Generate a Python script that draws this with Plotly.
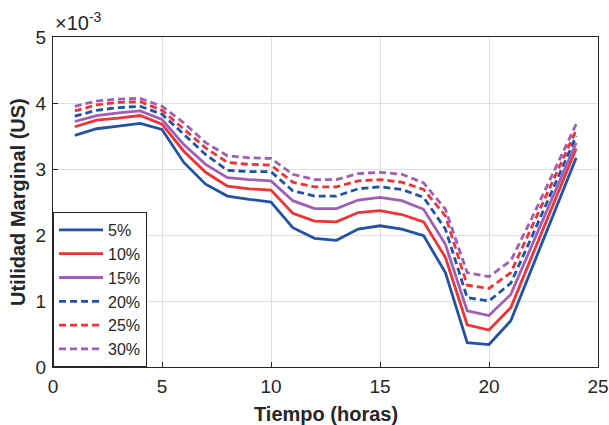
import plotly.graph_objects as go

hours = list(range(1, 25))
labels = ["5%", "10%", "15%", "20%", "25%", "30%"]

# values in units of 1e-3
u5 = [3.51, 3.61, 3.65, 3.69, 3.60, 3.10, 2.77, 2.59, 2.54, 2.50, 2.11, 1.95, 1.92, 2.09, 2.14, 2.09, 1.99, 1.43, 0.37, 0.34, 0.70, 1.53, 2.34, 3.17]
u10 = [3.64, 3.74, 3.77, 3.81, 3.68, 3.27, 2.95, 2.74, 2.70, 2.68, 2.33, 2.21, 2.20, 2.34, 2.37, 2.31, 2.20, 1.66, 0.64, 0.56, 0.90, 1.70, 2.50, 3.31]
u15 = [3.72, 3.81, 3.85, 3.88, 3.75, 3.37, 3.07, 2.87, 2.84, 2.82, 2.52, 2.40, 2.40, 2.53, 2.57, 2.52, 2.39, 1.86, 0.85, 0.78, 1.10, 1.87, 2.63, 3.40]
u20 = [3.80, 3.89, 3.93, 3.95, 3.83, 3.53, 3.22, 2.98, 2.96, 2.96, 2.67, 2.59, 2.59, 2.70, 2.73, 2.69, 2.57, 2.09, 1.05, 1.00, 1.27, 2.00, 2.75, 3.50]
u25 = [3.88, 3.97, 4.01, 4.02, 3.89, 3.61, 3.32, 3.10, 3.07, 3.06, 2.80, 2.73, 2.73, 2.82, 2.84, 2.80, 2.69, 2.29, 1.24, 1.19, 1.43, 2.15, 2.87, 3.59]
u30 = [3.95, 4.03, 4.06, 4.07, 3.95, 3.70, 3.40, 3.20, 3.17, 3.16, 2.92, 2.84, 2.84, 2.93, 2.95, 2.92, 2.79, 2.39, 1.43, 1.37, 1.61, 2.28, 2.98, 3.68]

series = [u5, u10, u15, u20, u25, u30]
colors = ["#2252A8", "#F03236", "#A25DB5", "#2252A8", "#F03236", "#A25DB5"]
dashes = ["solid", "solid", "solid", "7px,4px", "7px,4px", "7px,4px"]

xticks = [0, 5, 10, 15, 20, 25]
yticks = [0, 1, 2, 3, 4, 5]
ytick_text = ["0", "1", "2", "3", "4", "5"]

FONT = "Liberation Sans, Arial"
TXT = "#262626"

fig = go.Figure()
for name, vals, c, d in zip(labels, series, colors, dashes):
    fig.add_trace(go.Scatter(
        x=hours, y=[v * 1e-3 for v in vals], mode="lines", name=name,
        line=dict(color=c, width=2.8, dash=d),
    ))

axis_common = dict(
    showgrid=True, gridcolor="#DFDFDF", gridwidth=1,
    showline=True, linecolor="#262626", linewidth=1, mirror=True,
    ticks="inside", ticklen=5, tickcolor="#262626",
    zeroline=False, automargin=False, ticklabeloverflow="allow",
    tickfont=dict(family=FONT, size=19, color=TXT),
)

fig.update_layout(
    width=609, height=425,
    margin=dict(l=53, r=11, t=37, b=58),
    paper_bgcolor="white", plot_bgcolor="white",
    xaxis=dict(range=[0, 25], tickvals=xticks, ticklabelstandoff=2, **axis_common),
    yaxis=dict(range=[0, 0.005], tickvals=[t * 1e-3 for t in yticks], ticktext=ytick_text,
               ticklabelstandoff=2, **axis_common),
    legend=dict(x=0, y=0, xanchor="left", yanchor="bottom",
                bgcolor="white", bordercolor="#262626", borderwidth=1,
                font=dict(family=FONT, size=16, color=TXT),
                itemwidth=44, tracegroupgap=0),
    showlegend=True,
    annotations=[
        dict(text="×10<sup>-3</sup>", xref="paper", yref="paper", x=0, y=1,
             xanchor="left", yanchor="bottom", yshift=1, showarrow=False,
             font=dict(family=FONT, size=20, color=TXT)),
        dict(text="<b>Tiempo (horas)</b>", xref="paper", yref="paper", x=0.5, y=0,
             xanchor="center", yanchor="middle", yshift=-47, showarrow=False,
             font=dict(family=FONT, size=20, color=TXT)),
        dict(text="<b>Utilidad Marginal (US)</b>", xref="paper", yref="paper", x=0, y=0.5,
             xanchor="center", yanchor="middle", xshift=-35, textangle=-90, showarrow=False,
             font=dict(family=FONT, size=20, color=TXT)),
    ],
)

fig.write_html(
    "out.html",
    config={"displayModeBar": False},
    post_script="document.body.style.margin='0';document.documentElement.style.overflow='hidden';",
)
